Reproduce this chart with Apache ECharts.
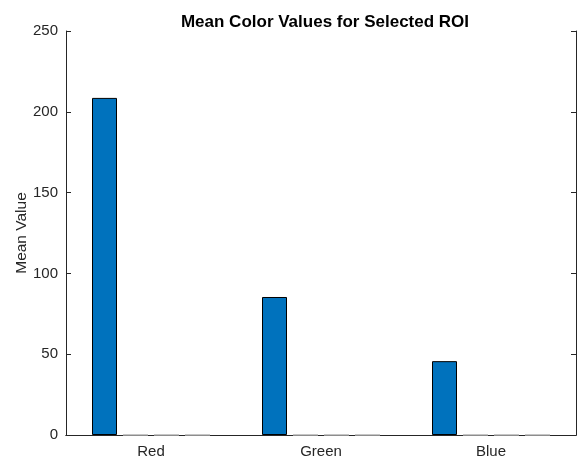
<!DOCTYPE html>
<html>
<head>
<meta charset="utf-8">
<script src="https://cdn.jsdelivr.net/npm/echarts@6/dist/echarts.min.js"></script>
<style>
  html, body { margin: 0; padding: 0; background: #fff; }
  #chart { width: 581px; height: 464px; }
</style>
</head>
<body>
<div id="chart"></div>
<script>
// data
const categories = ["Red", "Green", "Blue"];
const meanValues = [208.6, 85.4, 45.7];
const emptyValues = [0, 0, 0];
const yTicks = { min: 0, max: 250, interval: 50 };

const chart = echarts.init(document.getElementById("chart"));
const axisColor = "#262626";
const font = "Arial, Liberation Sans";

const barSeries = (name, data, border) => ({
  name: name,
  type: "bar",
  data: data,
  barWidth: 25,
  barGap: "24%",
  itemStyle: { color: "#0072BD", borderColor: border, borderWidth: 1 },
  emphasis: { disabled: true },
});

chart.setOption({
  animation: false,
  title: {
    text: "Mean Color Values for Selected ROI",
    left: 320,
    textAlign: "center",
    top: 9,
    textStyle: { fontFamily: font, fontSize: 17, fontWeight: "bold", color: "#000" },
  },
  grid: { left: 66, right: 5, top: 31, bottom: 29, containLabel: false, outerBoundsMode: "none" },
  xAxis: [
    {
      type: "category",
      data: categories,
      axisLine: { lineStyle: { color: axisColor, width: 1 } },
      axisTick: { inside: true, length: 5, alignWithLabel: true, lineStyle: { color: axisColor } },
      axisLabel: { color: axisColor, fontFamily: font, fontSize: 15, margin: 9 },
    },
    {
      type: "category",
      data: categories,
      position: "top",
      axisLine: { lineStyle: { color: axisColor, width: 1 } },
      axisTick: { inside: true, length: 5, alignWithLabel: true, lineStyle: { color: axisColor } },
      axisLabel: { show: false },
    },
  ],
  yAxis: [
    {
      type: "value",
      min: yTicks.min,
      max: yTicks.max,
      interval: yTicks.interval,
      name: "Mean Value",
      nameLocation: "middle",
      nameGap: 36,
      nameMoveOverlap: false,
      nameTextStyle: { color: axisColor, fontFamily: font, fontSize: 15.5 },
      axisLine: { show: true, lineStyle: { color: axisColor, width: 1 } },
      axisTick: { show: true, inside: true, length: 5, lineStyle: { color: axisColor } },
      axisLabel: { color: axisColor, fontFamily: font, fontSize: 15, margin: 8 },
      splitLine: { show: false },
    },
    {
      type: "value",
      min: yTicks.min,
      max: yTicks.max,
      interval: yTicks.interval,
      position: "right",
      axisLine: { show: true, lineStyle: { color: axisColor, width: 1 } },
      axisTick: { show: true, inside: true, length: 5, lineStyle: { color: axisColor } },
      axisLabel: { show: false },
      splitLine: { show: false },
    },
  ],
  series: [
    barSeries("mean", meanValues, "#000"),
    barSeries("empty1", emptyValues, "#b0b0b0"),
    barSeries("empty2", emptyValues, "#b0b0b0"),
    barSeries("empty3", emptyValues, "#b0b0b0"),
  ],
});
</script>
</body>
</html>
